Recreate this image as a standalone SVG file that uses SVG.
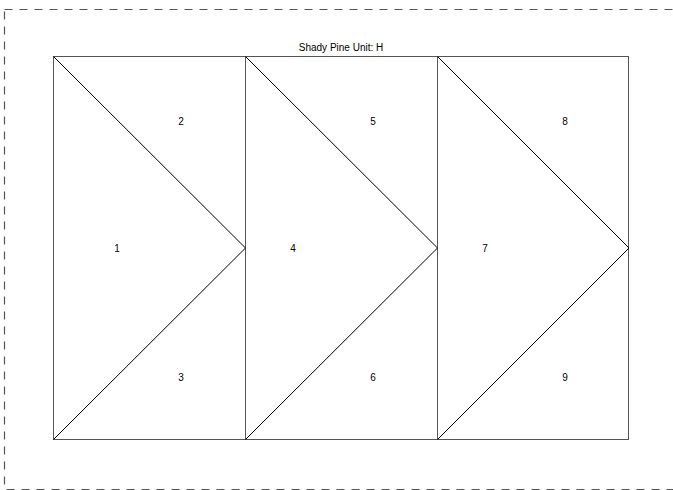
<svg xmlns="http://www.w3.org/2000/svg" width="673" height="490" viewBox="0 0 673 490">
<style>
.border{fill:none;stroke:#555;stroke-width:1.2;stroke-dasharray:8 7}
.frame{fill:none;stroke:#555;stroke-width:1}
.diag{fill:none;stroke:#000;stroke-width:1}
text{font-family:"Liberation Sans",Arial,sans-serif;font-size:10px;fill:#000;text-anchor:middle}
</style>
<rect class="border" x="4.5" y="9.5" width="680" height="480"/>
<text x="341" y="51">Shady Pine Unit: H</text>
<g id="frame">
<rect class="frame" x="53.5" y="56.5" width="575" height="383"/>
<line class="frame" x1="245.5" y1="56.5" x2="245.5" y2="439.5"/>
<line class="frame" x1="437.5" y1="56.5" x2="437.5" y2="439.5"/>
</g>
<g id="connectors">
<polyline class="diag" points="53.5,56.5 245.5,248 53.5,439.5"/>
<polyline class="diag" points="245.5,56.5 437.5,248 245.5,439.5"/>
<polyline class="diag" points="437.5,56.5 629,248 437.5,439.5"/>
</g>
<g id="n1"><text x="117" y="252">1</text></g>
<g id="n2"><text x="181" y="125">2</text></g>
<g id="n3"><text x="181" y="381">3</text></g>
<g id="n4"><text x="293" y="252">4</text></g>
<g id="n5"><text x="373" y="125">5</text></g>
<g id="n6"><text x="373" y="381">6</text></g>
<g id="n7"><text x="485" y="252">7</text></g>
<g id="n8"><text x="565" y="125">8</text></g>
<g id="n9"><text x="565" y="381">9</text></g>
</svg>
